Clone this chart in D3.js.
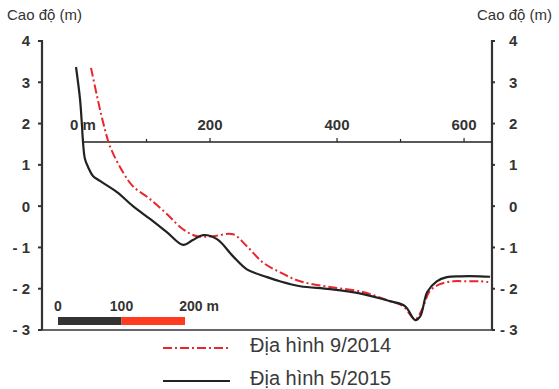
<!DOCTYPE html>
<html>
<head>
<meta charset="utf-8">
<script src="https://cdn.jsdelivr.net/npm/d3@7"></script>
<style>
  html, body { margin: 0; padding: 0; background: #fff; }
  svg { display: block; font-family: "Liberation Sans", Arial, sans-serif; }
</style>
</head>
<body>
<div id="chart"></div>
<script>
// distance along profile (m), elevation (m)
const profile2014 = [
  [12.6, 3.35], [22, 2.67], [31.5, 2.04], [42.5, 1.45], [63, 0.82],
  [78.7, 0.48], [105.5, 0.17], [132, -0.19], [157.5, -0.56], [179.5, -0.73],
  [204.7, -0.73], [236, -0.68], [258, -0.97], [283, -1.36], [310, -1.6],
  [342, -1.82], [389, -1.96], [441, -2.08], [483, -2.3], [504, -2.42],
  [523, -2.74], [534, -2.5], [546, -2.06], [562, -1.89], [583, -1.82],
  [605, -1.82], [625, -1.82], [638, -1.84]
];
const profile2015 = [
  [-11, 3.37], [-4.7, 2.59], [-1.6, 1.94], [0, 1.55], [3.1, 1.14],
  [7.9, 0.95], [15.7, 0.73], [26.8, 0.61], [53.5, 0.34], [78.7, 0], [105.5, -0.31],
  [132, -0.63], [157.5, -0.94], [173, -0.82], [189, -0.7], [211, -0.8],
  [236, -1.21], [258, -1.53], [290, -1.72], [310, -1.82], [342, -1.94],
  [389, -2.01], [441, -2.13], [483, -2.3], [507, -2.42], [523, -2.76],
  [531, -2.67], [542, -2.08], [557, -1.82], [573, -1.72], [594, -1.7],
  [625, -1.7], [641, -1.71]
];
const elevTicks = [4, 3, 2, 1, 0, -1, -2, -3];
const distTicks = [0, 200, 400, 600];
const distMinor = [100, 500];
const scaleBar = [0, 100, 200];
const legendItems = [
  { label: 'Địa hình 9/2014', color: '#e8262e', dash: '9,3,2,3' },
  { label: 'Địa hình 5/2015', color: '#222', dash: null }
];

const width = 559, height = 389;
const plotLeft = 42, plotRight = 492, plotTop = 41, plotBottom = 330, axisY = 142;

const svg = d3.select('#chart').append('svg')
  .attr('width', width)
  .attr('height', height);

const x = d3.scaleLinear().domain([0, 644]).range([83, plotRight]);
const y = d3.scaleLinear().domain([-3, 4]).range([plotBottom, plotTop]);

const tickFmt = v => v < 0 ? '- ' + Math.abs(v) : String(v);

// Left axis
svg.append('line')
  .attr('x1', plotLeft).attr('x2', plotLeft).attr('y1', plotTop - 1).attr('y2', plotBottom)
  .attr('stroke', '#333').attr('stroke-width', 2.2);
svg.append('g').selectAll('line').data(elevTicks).enter().append('line')
  .attr('x1', plotLeft - 4).attr('x2', plotLeft).attr('y1', d => y(d)).attr('y2', d => y(d))
  .attr('stroke', '#333').attr('stroke-width', 2);
svg.append('g').selectAll('text').data(elevTicks).enter().append('text')
  .attr('x', 30).attr('y', d => y(d)).attr('dy', '0.36em')
  .attr('text-anchor', 'end')
  .attr('font-size', 15).attr('font-weight', 'bold').attr('fill', '#333')
  .text(tickFmt);

// Right axis
svg.append('line')
  .attr('x1', plotRight).attr('x2', plotRight).attr('y1', plotTop - 1).attr('y2', plotBottom)
  .attr('stroke', '#333').attr('stroke-width', 2.2);
svg.append('g').selectAll('line').data(elevTicks).enter().append('line')
  .attr('x1', plotRight).attr('x2', plotRight + 3).attr('y1', d => y(d)).attr('y2', d => y(d))
  .attr('stroke', '#333').attr('stroke-width', 2);
svg.append('g').selectAll('text').data(elevTicks).enter().append('text')
  .attr('x', d => d < 0 ? 500 : 509).attr('y', d => y(d)).attr('dy', '0.36em')
  .attr('font-size', 15).attr('font-weight', 'bold').attr('fill', '#333')
  .text(tickFmt);

// Bottom frame line
svg.append('line')
  .attr('x1', plotLeft).attr('x2', plotRight).attr('y1', plotBottom).attr('y2', plotBottom)
  .attr('stroke', '#333').attr('stroke-width', 1.5);

// Axis titles
svg.append('text').attr('x', 7).attr('y', 20)
  .attr('font-size', 15).attr('fill', '#333').text('Cao độ (m)');
svg.append('text').attr('x', 552).attr('y', 20).attr('text-anchor', 'end')
  .attr('font-size', 15).attr('fill', '#333').text('Cao độ (m)');

// Top distance axis
svg.append('line')
  .attr('x1', x(0)).attr('x2', plotRight).attr('y1', axisY).attr('y2', axisY)
  .attr('stroke', '#222').attr('stroke-width', 1.4);
svg.append('g').selectAll('line').data(distTicks.concat(distMinor)).enter().append('line')
  .attr('x1', d => x(d)).attr('x2', d => x(d))
  .attr('y1', d => axisY - (distMinor.includes(d) ? 3 : 4)).attr('y2', axisY)
  .attr('stroke', '#222').attr('stroke-width', 1.2);
svg.append('g').selectAll('text').data(distTicks).enter().append('text')
  .attr('x', d => x(d)).attr('y', 130)
  .attr('text-anchor', 'middle')
  .attr('font-size', 15).attr('font-weight', 'bold').attr('fill', '#333')
  .text(d => d === 0 ? '0 m' : d);

// Profiles
const line = d3.line()
  .x(d => x(d[0]))
  .y(d => y(d[1]))
  .curve(d3.curveCatmullRom.alpha(0.5));

svg.append('path').datum(profile2014)
  .attr('d', line).attr('fill', 'none')
  .attr('stroke', legendItems[0].color).attr('stroke-width', 2)
  .attr('stroke-dasharray', legendItems[0].dash);
svg.append('path').datum(profile2015)
  .attr('d', line).attr('fill', 'none')
  .attr('stroke', legendItems[1].color).attr('stroke-width', 2.2);

// Scale bar
const sb0 = 58;
const sbW = d => x(d) - x(0);
svg.append('rect').attr('x', sb0).attr('y', 317)
  .attr('width', sbW(100)).attr('height', 8).attr('fill', '#333');
svg.append('rect').attr('x', sb0 + sbW(100)).attr('y', 317)
  .attr('width', sbW(100)).attr('height', 8).attr('fill', '#ff3b22');
svg.append('g').selectAll('text').data(scaleBar).enter().append('text')
  .attr('x', d => sb0 + sbW(d) + (d === 200 ? 14 : 0)).attr('y', 311)
  .attr('text-anchor', 'middle')
  .attr('font-size', 14).attr('font-weight', 'bold').attr('fill', '#333')
  .text(d => d === 200 ? '200 m' : d);

// Legend
const legend = svg.append('g').selectAll('g').data(legendItems).enter().append('g')
  .attr('transform', (d, i) => `translate(163, ${348 + i * 33})`);
legend.append('line')
  .attr('x1', 0).attr('x2', 67).attr('y1', 0).attr('y2', 0)
  .attr('stroke', d => d.color).attr('stroke-width', 2)
  .attr('stroke-dasharray', d => d.dash);
legend.append('text')
  .attr('x', 87).attr('y', 4)
  .attr('font-size', 20).attr('fill', '#3a3a3a')
  .text(d => d.label);
</script>
</body>
</html>
